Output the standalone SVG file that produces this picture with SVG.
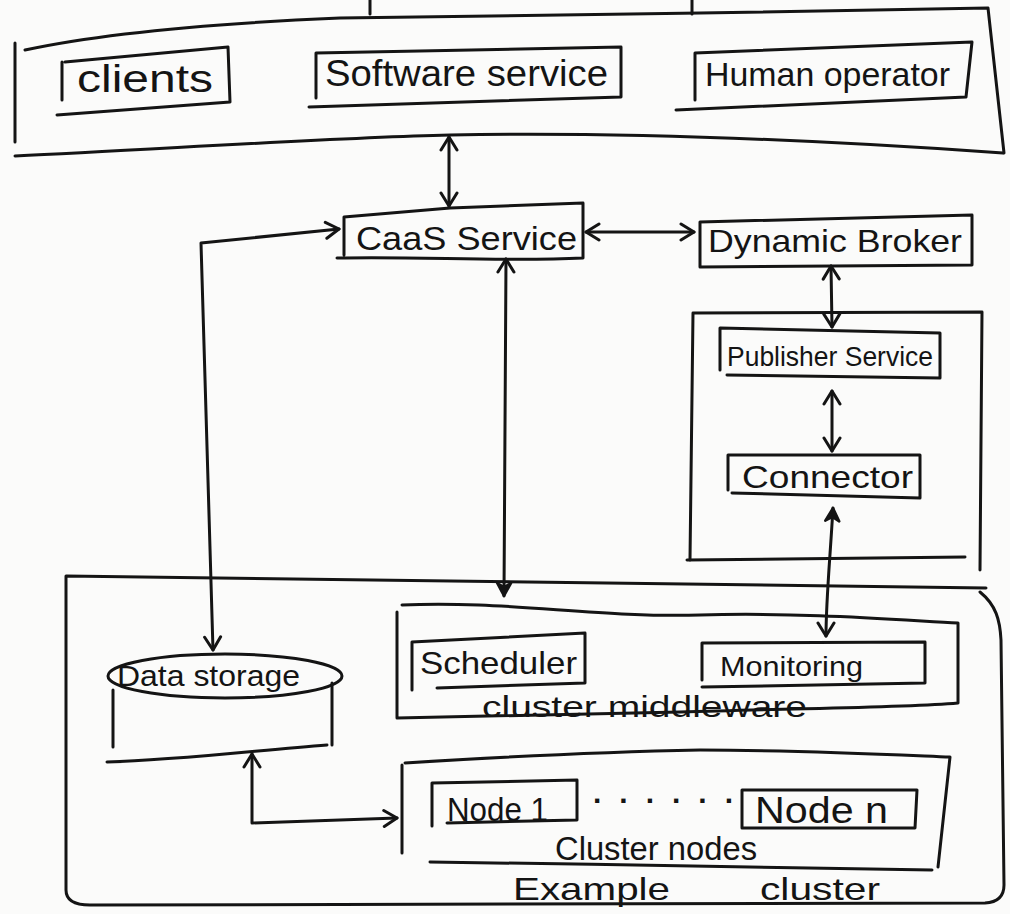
<svg xmlns="http://www.w3.org/2000/svg" width="1010" height="914" viewBox="0 0 1010 914">
  <style>
    .ink { fill: none; stroke: #141414; stroke-width: 3; stroke-linecap: round; stroke-linejoin: round; }
    .lbl { font-family: "Liberation Sans", Arial, sans-serif; fill: #141414; }
    .wire { fill: none; stroke: #141414; stroke-width: 3; stroke-linecap: round; stroke-linejoin: round; }
  </style>
  <defs>
    <marker id="head" markerUnits="userSpaceOnUse" markerWidth="20" markerHeight="20" refX="15" refY="10" orient="auto-start-reverse">
      <path d="M2,2 L15,10 L2,18" fill="none" stroke="#141414" stroke-width="3" stroke-linecap="round" stroke-linejoin="round"/>
    </marker>
    <marker id="headFill" markerUnits="userSpaceOnUse" markerWidth="20" markerHeight="20" refX="15" refY="10" orient="auto-start-reverse">
      <path d="M2,3 L15,10 L2,17 L6,10 Z" fill="#141414" stroke="#141414" stroke-width="2.5" stroke-linejoin="round"/>
    </marker>
  </defs>

  <rect x="0" y="0" width="1010" height="914" fill="#fbfbfa"/>

  <!-- actor strip across the top -->
  <g id="actors">
    <path class="ink" d="M25,50 C90,36 200,24 340,18 L700,13 L988,8 L1004,153"/>
    <path class="ink" d="M15,156 C150,150 320,138 450,135 C620,132 820,140 1003,153"/>
    <path class="ink" d="M15,43 L15,142"/>
    <path class="ink" d="M370,0 L370,14 M692,0 L692,14"/>
  </g>

  <g id="clients">
    <path class="ink" d="M62,62 L62,100 M65,62 L228,47 L230,102 L57,115"/>
    <text class="lbl" x="77" y="92" font-size="38" textLength="136" lengthAdjust="spacingAndGlyphs">clients</text>
  </g>

  <g id="software-service">
    <path class="ink" d="M316,98 L316,53 L621,47 L621,97 L309,107"/>
    <text class="lbl" x="325" y="86" font-size="36" textLength="283" lengthAdjust="spacingAndGlyphs">Software service</text>
  </g>

  <g id="human-operator">
    <path class="ink" d="M695,100 L695,53 L972,42 L966,97 L676,110"/>
    <text class="lbl" x="705" y="86" font-size="34" textLength="245" lengthAdjust="spacingAndGlyphs">Human operator</text>
  </g>

  <g id="caas-service">
    <path class="ink" d="M344,255 L344,217 L450,208 L583,203 L583,258 C500,262 420,256 337,258"/>
    <text class="lbl" x="356" y="250" font-size="34" textLength="221" lengthAdjust="spacingAndGlyphs">CaaS Service</text>
  </g>

  <g id="dynamic-broker">
    <path class="ink" d="M700,267 L700,222 L972,215 L972,265 L700,267"/>
    <text class="lbl" x="708" y="252" font-size="32" textLength="254" lengthAdjust="spacingAndGlyphs">Dynamic Broker</text>
  </g>

  <!-- publisher side container -->
  <g id="publisher-group">
    <path class="ink" d="M690,560 L693,313 L982,312 L980,570"/>
    <path class="ink" d="M687,560 L965,557"/>
  </g>

  <g id="publisher-service">
    <path class="ink" d="M720,370 L720,328 L940,333 L940,378 L727,375"/>
    <text class="lbl" x="727" y="366" font-size="28" textLength="206" lengthAdjust="spacingAndGlyphs">Publisher Service</text>
  </g>

  <g id="connector">
    <path class="ink" d="M728,490 L728,455 L920,455 L920,498 L732,493"/>
    <text class="lbl" x="742" y="488" font-size="32" textLength="171" lengthAdjust="spacingAndGlyphs">Connector</text>
  </g>

  <!-- example cluster frame -->
  <g id="example-cluster">
    <path class="ink" d="M66,890 L66,576 L986,588 M980,592 C996,605 1000,620 1001,640 L1004,885 Q1004,902 985,903 L90,905 Q66,905 66,890"/>
    <text class="lbl" font-size="32" y="900"><tspan x="513" textLength="157" lengthAdjust="spacingAndGlyphs">Example</tspan><tspan x="760" textLength="120" lengthAdjust="spacingAndGlyphs">cluster</tspan></text>
  </g>

  <g id="data-storage">
    <ellipse class="ink" cx="225" cy="676" rx="117" ry="22"/>
    <path class="ink" d="M113,690 L113,747 M332,683 L332,745 M107,762 C180,760 260,750 327,745"/>
    <text class="lbl" x="117" y="686" font-size="30" textLength="183" lengthAdjust="spacingAndGlyphs">Data storage</text>
  </g>

  <g id="cluster-middleware">
    <path class="ink" d="M397,718 L397,612 M402,605 C500,600 600,618 700,615 C800,612 900,620 958,623 L958,703 C900,708 800,708 680,712 C560,715 450,716 397,718"/>
    <text class="lbl" x="482" y="717" font-size="30" textLength="325" lengthAdjust="spacingAndGlyphs">cluster middleware</text>
  </g>

  <g id="scheduler">
    <path class="ink" d="M412,690 L412,642 L585,633 L585,683 L437,688"/>
    <text class="lbl" x="420" y="674" font-size="32" textLength="157" lengthAdjust="spacingAndGlyphs">Scheduler</text>
  </g>

  <g id="monitoring">
    <path class="ink" d="M702,680 L702,643 L925,642 L925,683 L702,687"/>
    <text class="lbl" x="720" y="676" font-size="28" textLength="143" lengthAdjust="spacingAndGlyphs">Monitoring</text>
  </g>

  <g id="cluster-nodes">
    <path class="ink" d="M402,853 L402,765 M405,763 C500,757 600,752 700,750 C800,750 900,755 950,757 L938,867 M932,870 C800,868 600,864 430,862"/>
    <text class="lbl" x="555" y="860" font-size="34" textLength="202" lengthAdjust="spacingAndGlyphs">Cluster nodes</text>
    <text class="lbl" x="593" y="803" font-size="30" font-weight="bold" textLength="140" lengthAdjust="spacing">......</text>
  </g>

  <g id="node-1">
    <path class="ink" d="M432,826 L432,783 L577,780 L577,820 L447,823"/>
    <text class="lbl" x="447" y="821" font-size="34" textLength="101" lengthAdjust="spacingAndGlyphs">Node 1</text>
  </g>

  <g id="node-n">
    <path class="ink" d="M742,828 L742,790 L917,790 L915,828 L742,828"/>
    <text class="lbl" x="755" y="823" font-size="36" textLength="133" lengthAdjust="spacingAndGlyphs">Node n</text>
  </g>

  <!-- connectors -->
  <g id="connectors">
    <path class="wire" d="M449,137 L449,206" marker-start="url(#head)" marker-end="url(#head)"/>
    <path class="wire" d="M586,232 L694,232" marker-start="url(#head)" marker-end="url(#head)"/>
    <path class="wire" d="M213,650 L201,243 L339,229" marker-start="url(#head)" marker-end="url(#head)"/>
    <path class="wire" d="M506,259 L504,596" marker-start="url(#head)" marker-end="url(#headFill)"/>
    <path class="wire" d="M831,266 L832,327" marker-start="url(#head)" marker-end="url(#head)"/>
    <path class="wire" d="M832,391 L832,451" marker-start="url(#head)" marker-end="url(#head)"/>
    <path class="wire" d="M833,508 C830,560 826,600 826,636" marker-start="url(#headFill)" marker-end="url(#head)"/>
    <path class="wire" d="M252,754 L252,823 L397,818" marker-start="url(#head)" marker-end="url(#head)"/>
  </g>
</svg>
